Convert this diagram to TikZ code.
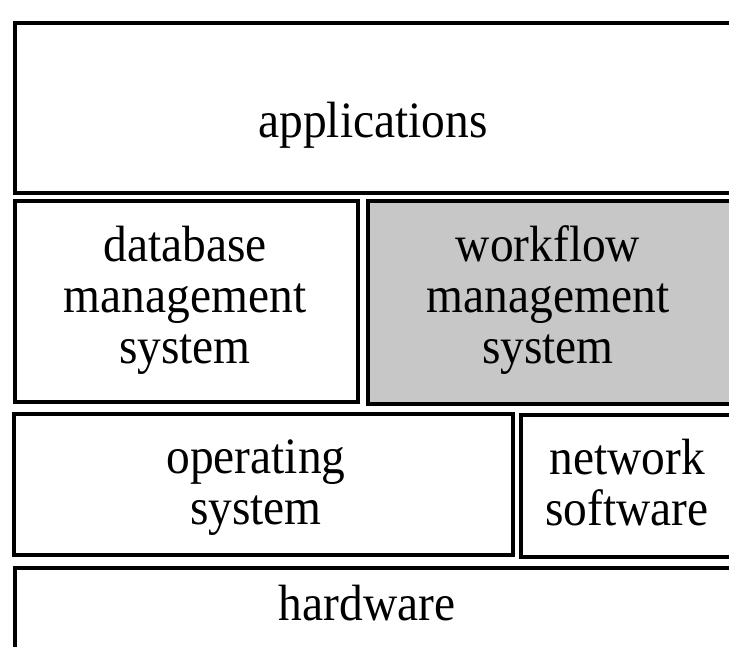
\documentclass[tikz,border=0pt]{standalone}
\usepackage{fontspec}
\setmainfont[FakeStretch=0.93]{Liberation Serif}
\tikzset{
  layerbox/.style={draw=black, line width=3.6pt, inner sep=0pt, anchor=north west},
  shadedbox/.style={layerbox, fill=black!22},
  lbl/.style={font=\fontsize{51}{51}\selectfont, align=center, inner sep=0pt, anchor=base}
}
\begin{document}
\begin{tikzpicture}[x=1pt,y=-1pt]
\useasboundingbox (0,0) rectangle (729,646);
\clip (0,0) rectangle (729,646);
\fill[white] (0,0) rectangle (729,646);
% boxes
\node[layerbox, minimum width=722pt, minimum height=170pt] (app) at (13,21) {};
\node[layerbox, minimum width=343pt, minimum height=201pt] (dbms) at (13,199) {};
\node[shadedbox, minimum width=380pt, minimum height=203pt] (wfms) at (366,199) {};
\node[layerbox, minimum width=499pt, minimum height=141pt] (os) at (12,412) {};
\node[layerbox, minimum width=230pt, minimum height=142pt] (net) at (519,413) {};
\node[layerbox, minimum width=740pt, minimum height=150pt] (hw) at (13,566) {};
% labels (base anchor = baseline of last line)
\node[lbl] (tapp) at (373,137) {applications};
\node[lbl] (tdbms) at (185,363) {database\\management\\system};
\node[lbl] (twfms) at (548,363) {workflow\\management\\system};
\node[lbl] (tos) at (256,524) {operating\\system};
\node[lbl] (tnet) at (627,525) {network\\software};
\node[lbl] (thw) at (367,620) {hardware};
\end{tikzpicture}
\end{document}
